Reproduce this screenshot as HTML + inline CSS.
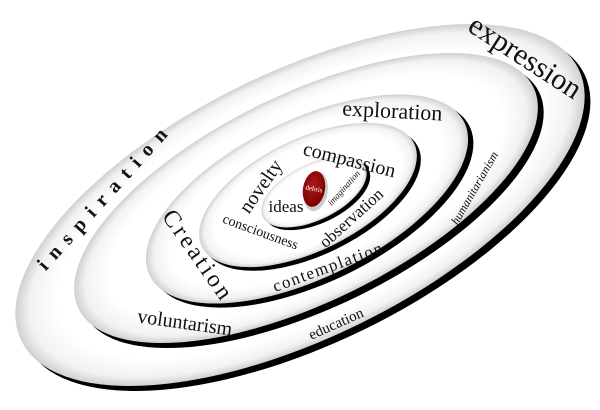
<!DOCTYPE html>
<html><head><meta charset="utf-8"><style>
html,body{margin:0;padding:0;background:#fff;overflow:hidden;width:600px;height:410px;}
svg{display:block;}
text{font-family:"Liberation Serif","DejaVu Serif","Times New Roman",serif;fill:#111;}
</style></head><body>
<svg width="600" height="410" viewBox="0 0 600 410" xmlns="http://www.w3.org/2000/svg">
<defs>
<radialGradient id="g" cx="50%" cy="50%" r="50%">
<stop offset="0.85" stop-color="#ffffff"/>
<stop offset="0.95" stop-color="#f2f2f2"/>
<stop offset="1" stop-color="#d0d0d0"/>
</radialGradient>
<radialGradient id="r" cx="45%" cy="40%" r="60%">
<stop offset="0" stop-color="#b01818"/>
<stop offset="1" stop-color="#7a0000"/>
</radialGradient>
</defs>
<g transform="translate(300,205) rotate(-26)">
<ellipse cx="3" cy="7" rx="310" ry="133" fill="#000"/>
<ellipse cx="0" cy="0" rx="310" ry="133" fill="url(#g)"/>
</g>
<g transform="translate(306,198) rotate(-26)">
<ellipse cx="3" cy="7" rx="253" ry="104" fill="#000"/>
<ellipse cx="0" cy="0" rx="253" ry="104" fill="url(#g)"/>
</g>
<g transform="translate(307,199) rotate(-26)">
<ellipse cx="3" cy="6" rx="175" ry="79" fill="#000"/>
<ellipse cx="0" cy="0" rx="175" ry="79" fill="url(#g)"/>
</g>
<g transform="translate(308,195) rotate(-26)">
<ellipse cx="2" cy="5" rx="118" ry="56" fill="#000"/>
<ellipse cx="0" cy="0" rx="118" ry="56" fill="url(#g)"/>
</g>
<g transform="translate(314,192) rotate(-26)">
<ellipse cx="2" cy="4" rx="57" ry="28" fill="#000"/>
<ellipse cx="0" cy="0" rx="57" ry="28" fill="url(#g)"/>
</g>
<g transform="translate(314,189) rotate(10)">
<ellipse cx="2" cy="2" rx="12" ry="20" fill="#ccc"/>
<ellipse cx="0" cy="0" rx="11" ry="18" fill="url(#r)"/>
<text x="0" y="2" font-size="7" text-anchor="middle" style="fill:#fff">debris</text>
</g>

<text transform="translate(520,65) rotate(33)" font-size="30" text-anchor="middle">expression</text>
<text transform="translate(110,200) rotate(-48)" font-size="20" font-weight="bold" letter-spacing="9" text-anchor="middle">inspiration</text>
<text transform="translate(184,329) rotate(8)" font-size="20" text-anchor="middle">voluntarism</text>
<text transform="translate(338,328) rotate(-24)" font-size="15" text-anchor="middle">education</text>
<text transform="translate(478,190) rotate(-60)" font-size="12" font-style="italic" text-anchor="middle">humanitarianism</text>
<text transform="translate(330,272) rotate(-20)" font-size="17" letter-spacing="1.5" text-anchor="middle">contemplation</text>
<text transform="translate(392,118) rotate(3)" font-size="22" text-anchor="middle">exploration</text>
<text transform="translate(192,260) rotate(55)" font-size="24" letter-spacing="3" text-anchor="middle">Creation</text>
<text transform="translate(348,166) rotate(14)" font-size="20" text-anchor="middle">compassion</text>
<text transform="translate(266,190) rotate(-55)" font-size="20" text-anchor="middle">novelty</text>
<text transform="translate(259,236) rotate(20)" font-size="14" text-anchor="middle">consciousness</text>
<text transform="translate(355,222) rotate(-42)" font-size="17" text-anchor="middle">observation</text>
<text x="286" y="212" font-size="17" text-anchor="middle">ideas</text>
<text transform="translate(346,190) rotate(-48)" font-size="9" font-style="italic" text-anchor="middle">imagination</text>
</svg>
</body></html>
